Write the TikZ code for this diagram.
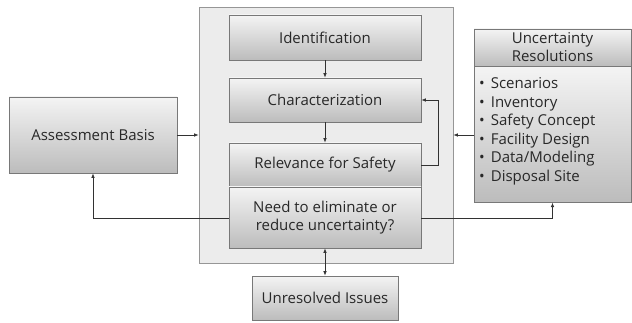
\documentclass[tikz,border=0pt]{standalone}
\usepackage{fontspec}
\setmainfont{Open Sans}
\usetikzlibrary{shadows,arrows.meta}
\definecolor{boxtop}{RGB}{244,244,244}
\definecolor{boxbot}{RGB}{188,188,188}
\definecolor{boxline}{RGB}{120,120,120}
\definecolor{txt}{RGB}{40,40,40}
\definecolor{contfill}{RGB}{236,236,236}
\definecolor{contline}{RGB}{150,150,150}
\definecolor{arr}{RGB}{50,50,50}
\tikzset{
  gbox/.style={draw=boxline, line width=0.6pt, top color=boxtop, bottom color=boxbot,
    text=txt, font=\fontsize{15}{18}\selectfont, align=center, inner sep=0pt,
    drop shadow={shadow xshift=1.2pt, shadow yshift=-1.2pt, fill=black, opacity=0.25}},
  cont/.style={draw=contline, line width=0.6pt, fill=contfill, inner sep=0pt,
    drop shadow={shadow xshift=1.2pt, shadow yshift=-1.2pt, fill=black, opacity=0.2}},
  conn/.style={draw=arr, line width=0.7pt, -{Latex[length=4.5pt,width=3.5pt]}},
  conn2/.style={draw=arr, line width=0.7pt, {Latex[length=4.5pt,width=3.5pt]}-{Latex[length=4.5pt,width=3.5pt]}},
}
\begin{document}
\begin{tikzpicture}[x=1pt,y=-1pt]
\useasboundingbox (0,0) rectangle (632,323);
\node[cont, minimum width=254pt, minimum height=256pt] (cont) at (326,135) {};
\node[gbox, minimum width=192pt, minimum height=45pt] (ident) at (325,37.5) {Identification};
\node[gbox, minimum width=192pt, minimum height=44pt] (char) at (325,100) {Characterization};
\node[gbox, minimum width=192pt, minimum height=44pt] (rel) at (325,165) {Relevance for Safety};
\node[gbox, minimum width=192pt, minimum height=61pt] (need) at (325,217.5) {Need to eliminate or\\reduce uncertainty?};
\node[gbox, minimum width=146pt, minimum height=44pt] (unres) at (325,298) {Unresolved Issues};
\node[gbox, minimum width=168pt, minimum height=76pt] (assess) at (93,135) {Assessment Basis};
\node[gbox, minimum width=157pt, minimum height=136pt, anchor=north] (ubody) at (552.5,66) {};
\node[gbox, minimum width=157pt, minimum height=37pt, font=\fontsize{15}{18}\selectfont] (uhead) at (552.5,47.5) {Uncertainty\\Resolutions};
\node[text=txt, font=\fontsize{15}{18.5}\selectfont, align=left, anchor=north west, inner sep=0pt] (ulist) at (479,77.5)
  {\textbullet\hspace{6pt}Scenarios\\\textbullet\hspace{6pt}Inventory\\\textbullet\hspace{6pt}Safety Concept\\\textbullet\hspace{6pt}Facility Design\\\textbullet\hspace{6pt}Data/Modeling\\\textbullet\hspace{6pt}Disposal Site};
\draw[conn] (ident) -- (char);
\draw[conn] (char) -- (rel);
\draw[conn] (rel.east) -- ++(17,0) |- (char.east);
\draw[conn] (assess.east) -- (cont.west |- assess.east);
\draw[conn] (ubody.west |- cont.east) -- (cont.east);
\draw[conn] (need.west |- 0,218) -| (assess.south);
\draw[conn] (need.east |- 0,218) -| (ubody.south);
\draw[conn2] (need.south) -- (unres.north);
\end{tikzpicture}
\end{document}
